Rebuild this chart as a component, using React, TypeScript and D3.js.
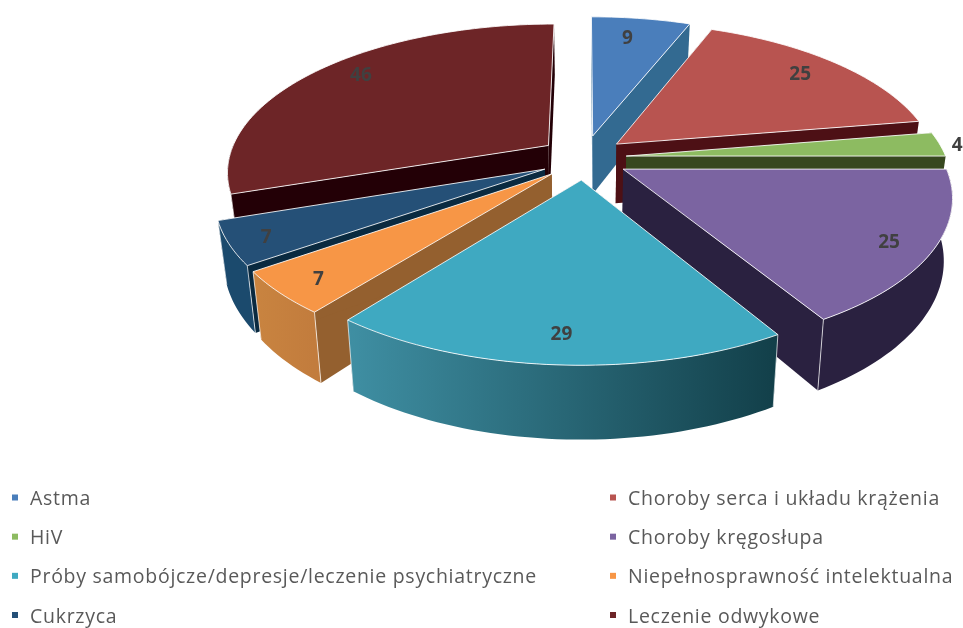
import React from "react";
import * as d3 from "d3";

const categories = ["Astma", "Choroby serca i układu krążenia", "HiV", "Choroby kręgosłupa", "Próby samobójcze/depresje/leczenie psychiatryczne", "Niepełnosprawność intelektualna", "Cukrzyca", "Leczenie odwykowe"];
const values = [9, 25, 4, 25, 29, 7, 7, 46];
const topColors = ["#4a7ebb", "#b85450", "#8dbb61", "#7b64a1", "#3fa9c1", "#f79646", "#255077", "#6d2527"];
const cutColors = ["#336a91", "#4d1015", "#37481f", "#2a2140", "#123f49", "#94602f", "#0a2a40", "#230006"];
const rimFrom = ["#336a91", "#4d1015", "#37481f", "#2a2140", "#3f8fa3", "#c98440", "#1b4a6d", "#230006"];
const rimTo = ["#336a91", "#4d1015", "#37481f", "#2a2140", "#123f49", "#c27c3d", "#1b4a6d", "#230006"];
const explode = [0.15, 0.12, 0.12, 0.125, 0.135, 0.15, 0.15, 0.15];
const sliceShiftX = [-3, 0, 1, 1, -3, 0, 1, 0];
const sliceShiftY = [-3, -5, -2.5, 0, 0, -1.5, -1, -2];
const labelRadius = [0.82, 0.84, 1.05, 0.9, 0.89, 0.9, 0.91, 0.85];
const labelShiftX = [-6, -3, 2, -11, 2, 8, 7, 11];
const labelShiftY = [0, -2, 0.5, 0, -8, -1.5, 0, -7];
const paintOrder = [7, 0, 1, 2, 3, 6, 5, 4];
const legendRows = [0, 0, 1, 1, 2, 2, 3, 3];
const legendCols = [0, 1, 0, 1, 0, 1, 0, 1];

const W = 963, H = 628;
const cx = 587, cy = 160, rx = 320, ry = 146, k = 0.17, depth = 60, lean = 0.024;

function project(X: number, Y: number, z: number): [number, number] {
  const s = 1 / (1 - k * Y);
  return [cx + X * rx * s * (1 - lean * z), cy + Y * ry * s + z * depth * s];
}

const pie = d3.pie<number>().sort(null).startAngle(0).endAngle(2 * Math.PI);
const arcs = pie(values);
const line = d3.line();
const legendX = d3.scaleOrdinal<number, number>().domain([0, 1]).range([30, 628]);
const legendY = d3.scaleLinear().domain([0, 3]).range([497.5, 615]);

export default function App() {
  const slices = arcs.map((a, i) => {
    const m = (a.startAngle + a.endAngle) / 2;
    const ax = explode[i] * Math.sin(m), ay = -explode[i] * Math.cos(m);
    const pt = (t: number, r: number, z: number): [number, number] => {
      const p = project(ax + r * Math.sin(t), ay - r * Math.cos(t), z);
      return [p[0] + sliceShiftX[i], p[1] + sliceShiftY[i]];
    };
    const n = Math.max(4, Math.ceil((a.endAngle - a.startAngle) * 40));
    const steps = d3.range(n + 1).map((j) => a.startAngle + ((a.endAngle - a.startAngle) * j) / n);
    const rim = steps.map((t) => pt(t, 1, 0));
    const top = line([pt(0, 0, 0), ...rim]) + "Z";
    const frontSteps = steps.filter((t) => Math.cos(t) < 0.02);
    const rimWall = frontSteps.length > 1
      ? line([...frontSteps.map((t) => pt(t, 1, 0)), ...frontSteps.slice().reverse().map((t) => pt(t, 1, 1))]) + "Z"
      : null;
    const cut = (t: number) => line([pt(0, 0, 0), pt(t, 1, 0), pt(t, 1, 1), pt(0, 0, 1)]) + "Z";
    const cornerLines = [a.startAngle, a.endAngle].filter((t) => Math.cos(t) < 0).map((t) => line([pt(t, 1, 0), pt(t, 1, 1)]));
    const xs = frontSteps.map((t) => pt(t, 1, 0)[0]);
    const lp = pt(m, labelRadius[i], 0);
    const label = [lp[0] + labelShiftX[i], lp[1] + labelShiftY[i]];
    return { i, top, rimWall, cuts: [cut(a.startAngle), cut(a.endAngle)], cornerLines, x0: d3.min(xs), x1: d3.max(xs), label };
  });

  return (
    <svg width={W} height={H} viewBox={`0 0 ${W} ${H}`} style={{ position: "absolute", left: 0, top: 0, display: "block", filter: "blur(0.6px)" }}>
      <rect width={W} height={H} fill="#ffffff" />
      <defs>
        {slices.map((s) => (
          <linearGradient key={s.i} id={`rim${s.i}`} gradientUnits="userSpaceOnUse" x1={s.x0 ?? 0} x2={s.x1 ?? 1} y1={0} y2={0}>
            <stop offset="0" stopColor={rimFrom[s.i]} />
            <stop offset="1" stopColor={rimTo[s.i]} />
          </linearGradient>
        ))}
      </defs>
      {paintOrder.map((i) => {
        const s = slices[i];
        return (
          <g key={i}>
            {s.cuts.map((d, j) => (
              <path key={j} d={d} fill={cutColors[i]} />
            ))}
            {s.rimWall && <path d={s.rimWall} fill={`url(#rim${i})`} />}
            {s.cornerLines.map((d, j) => (
              <path key={j} d={d ?? ""} fill="none" stroke="#ffffff" strokeOpacity={0.7} strokeWidth={1} />
            ))}
            <path d={s.top} fill={topColors[i]} stroke="#ffffff" strokeOpacity={0.85} strokeWidth={1} strokeLinejoin="round" />
          </g>
        );
      })}
      {slices.map((s) => (
        <text key={s.i} x={s.label[0]} y={s.label[1]} textAnchor="middle" dominantBaseline="central" fontFamily="'Open Sans', sans-serif" fontWeight={700} fontSize={19} fill="#404040">
          {values[s.i]}
        </text>
      ))}
      {categories.map((c, i) => {
        const x = legendX(legendCols[i]);
        const y = legendY(legendRows[i]);
        return (
          <g key={c}>
            <rect x={x - 18} y={y - 3} width={6} height={6} fill={topColors[i]} />
            <text x={x} y={y} dominantBaseline="central" fontFamily="'Open Sans', sans-serif" fontSize={19.5} letterSpacing={0.72} fill="#595959">
              {c}
            </text>
          </g>
        );
      })}
    </svg>
  );
}
